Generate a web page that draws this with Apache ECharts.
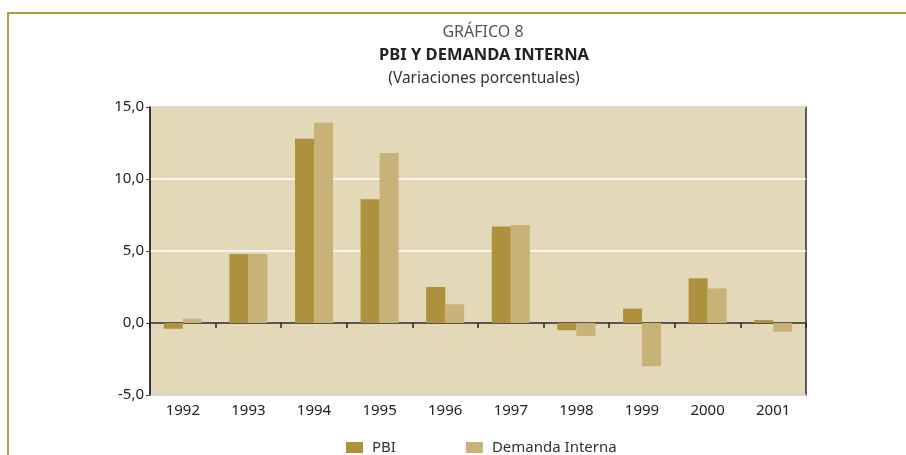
<!DOCTYPE html>
<html>
<head>
<meta charset="utf-8">
<script src="https://cdn.jsdelivr.net/npm/echarts@6/dist/echarts.min.js"></script>
<style>
  html, body { margin: 0; padding: 0; background: #fff; }
  #chart { width: 906px; height: 455px; }
</style>
</head>
<body>
<div id="chart"></div>
<script>
// Data
var years = ['1992', '1993', '1994', '1995', '1996', '1997', '1998', '1999', '2000', '2001'];
var pbi = [-0.4, 4.8, 12.8, 8.6, 2.5, 6.7, -0.5, 1.0, 3.1, 0.2];
var demanda = [0.3, 4.8, 13.9, 11.8, 1.3, 6.8, -0.9, -3.0, 2.4, -0.6];

var font = 'Noto Sans';

document.addEventListener('DOMContentLoaded', function() {
  var chart = echarts.init(document.getElementById('chart'), null, {renderer: 'canvas'});

  var option = {
    animation: false,
    textStyle: {fontFamily: font},
    graphic: [
      // gold frame, only top and left edges are inside the picture
      {type: 'rect', shape: {x: 8, y: 13, width: 1000, height: 600},
       style: {fill: 'none', stroke: '#b59a3c', lineWidth: 2}}
    ],
    title: [
      {text: 'GRÁFICO 8', left: 478, top: 19, textAlign: 'center',
       textStyle: {fontFamily: font, fontSize: 16, fontWeight: 'normal', color: '#555'}},
      {text: 'PBI Y DEMANDA INTERNA', left: 479, top: 42, textAlign: 'center',
       textStyle: {fontFamily: font, fontSize: 16.5, fontWeight: 'bold', color: '#222'}},
      {text: '(Variaciones porcentuales)', left: 479, top: 66, textAlign: 'center',
       textStyle: {fontFamily: font, fontSize: 15.5, fontWeight: 'normal', color: '#333'}}
    ],
    legend: {
      bottom: -5,
      left: 341,
      itemWidth: 17,
      itemHeight: 11,
      itemGap: 70,
      icon: 'rect',
      textStyle: {fontFamily: font, fontSize: 15, color: '#333', padding: [0, 0, 0, 4]},
      data: ['PBI', 'Demanda Interna']
    },
    grid: {
      left: 150, right: 100, top: 107, bottom: 60,
      show: true, backgroundColor: '#e3d9b9', borderColor: '#2b2b2b', borderWidth: 1.5
    },
    xAxis: [
      {
        // labels under the plot
        type: 'category', data: years, position: 'bottom',
        axisLine: {show: false, onZero: false}, axisTick: {show: false},
        axisLabel: {fontFamily: font, fontSize: 15, color: '#222', margin: 8}
      },
      {
        // axis line with ticks on zero
        type: 'category', data: years, position: 'top',
        axisLine: {show: true, onZero: true, lineStyle: {color: '#222', width: 1.5}},
        axisTick: {show: true, inside: true, length: 5, lineStyle: {color: '#222', width: 1.5}},
        axisLabel: {show: false}
      }
    ],
    yAxis: {
      type: 'value', min: -5, max: 15, interval: 5,
      axisLine: {show: true, lineStyle: {color: '#2b2b2b', width: 1.5}},
      axisTick: {show: true, length: 4, lineStyle: {color: '#5a3030'}},
      axisLabel: {
        fontFamily: font, fontSize: 15, color: '#222', margin: 6,
        formatter: function(v) { return v.toFixed(1).replace('.', ','); }
      },
      splitLine: {show: true, lineStyle: {color: '#ffffff', width: 1.5}}
    },
    series: [
      {name: 'PBI', type: 'bar', xAxisIndex: 0, data: pbi, barWidth: 19, barGap: '0%',
       itemStyle: {color: '#ad913d'}},
      {name: 'Demanda Interna', type: 'bar', xAxisIndex: 0, data: demanda, barWidth: 19, barGap: '0%',
       itemStyle: {color: '#c9b277'}}
    ]
  };

  chart.setOption(option);
});
</script>
</body>
</html>
